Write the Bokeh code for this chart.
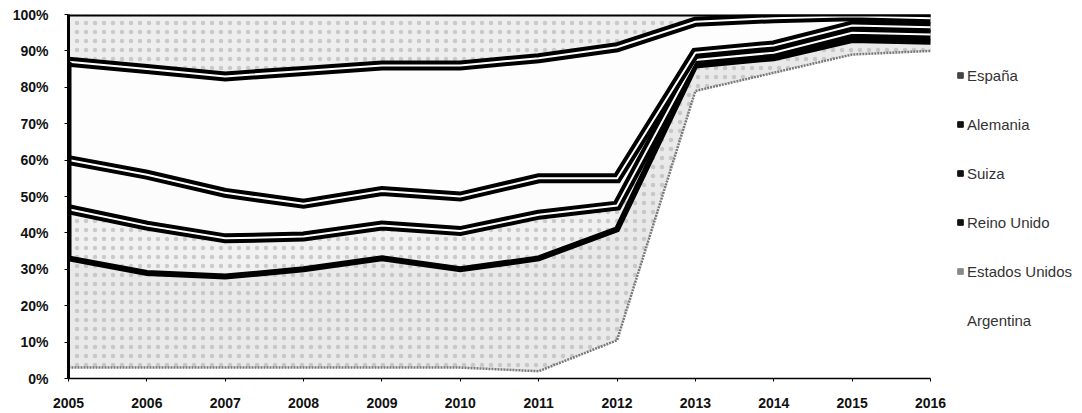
import numpy as np
from bokeh.plotting import figure
from bokeh.models import (ColumnDataSource, FixedTicker, NumeralTickFormatter,
                          Legend, LegendItem, Range1d)
from bokeh.embed import file_html
from bokeh.resources import INLINE

# ---- data (percent share per year) ----
years = [2005, 2006, 2007, 2008, 2009, 2010, 2011, 2012, 2013, 2014, 2015, 2016]
argentina      = [3, 3, 3, 3, 3, 3, 2, 10.5, 79, 84, 89, 90]
estados_unidos = [30, 26, 25, 27, 30, 27, 31, 30.5, 7, 4, 4, 2.5]
reino_unido    = [13.5, 13, 10.5, 9, 9, 10.5, 12, 6.5, 1.5, 1.5, 2, 2]
suiza          = [13.5, 14, 12.5, 9, 9.5, 9.5, 10, 7.5, 2, 2, 2, 2]
alemania       = [27, 29, 32, 36.5, 34.5, 36, 33, 36, 8.5, 7.5, 2.5, 2.5]
espana         = [13, 15, 17, 15.5, 14, 14, 12, 9, 2, 1, 0.5, 1]

series_names = ["Argentina", "Estados Unidos", "Reino Unido", "Suiza", "Alemania", "España"]
legend_order = ["España", "Alemania", "Suiza", "Reino Unido", "Estados Unidos", "Argentina"]
y_ticks = [0, 10, 20, 30, 40, 50, 60, 70, 80, 90, 100]

values = [argentina, estados_unidos, reino_unido, suiza, alemania, espana]
keys = ["arg", "eeuu", "ru", "sui", "ale", "esp"]

src = ColumnDataSource(dict(year=years, **{k: v for k, v in zip(keys, values)}))
cum = np.cumsum(np.array(values, dtype=float), axis=0)

# frame is widened to the right so that the legend sits inside it
FRAME_L, FRAME_R, PX_PER_YEAR = 68, 1078, 862 / 11
x_end = years[0] + (FRAME_R - FRAME_L) / PX_PER_YEAR

p = figure(width=1082, height=413, output_backend="svg", toolbar_location=None,
           x_range=Range1d(years[0], x_end), y_range=Range1d(0, 100),
           min_border_left=FRAME_L, min_border_right=1082 - FRAME_R,
           min_border_top=14, min_border_bottom=35,
           background_fill_color="white", border_fill_color="white")
p.outline_line_color = None
p.grid.visible = False

fills = ["#ffffff", "#e9e9e9", "#f1f1f1", "#fcfcfc", "#fdfdfd", "#eeeeee"]
hatches = [" ", "dot", "dot", " ", " ", "dot"]
p.varea_stack(stackers=keys, x="year", source=src, fill_color=fills,
              hatch_pattern=hatches, hatch_color="#b0b0b0", hatch_scale=9,
              hatch_weight=1.2, hatch_alpha=0.6)

# boundaries
p.line(years, cum[0], line_color="#7a7a7a", line_width=2.5, line_dash="2 1")
p.line(years, cum[1], line_color="black", line_width=6, line_join="miter")
for i in (2, 3, 4):
    p.line(years, cum[i], line_color="black", line_width=10, line_join="miter")
    p.line(years, cum[i], line_color="white", line_width=2, line_join="miter")
p.line(years, cum[5], line_color="black", line_width=4)
# thick left edge of the middle bands
p.segment(x0=[years[0]], y0=[cum[1][0]], x1=[years[0]], y1=[cum[4][0]],
          line_color="black", line_width=6)

# axes
p.xaxis.ticker = FixedTicker(ticks=years)
p.xaxis.bounds = (years[0], years[-1])
p.xaxis.minor_tick_line_color = None
p.xaxis.major_tick_in = 0
p.xaxis.major_tick_out = 3
p.xaxis.major_label_standoff = 16
p.xaxis.axis_line_width = 1.5
p.xaxis.axis_line_color = "black"
p.xaxis.major_label_text_font = "Liberation Sans"
p.xaxis.major_label_text_font_style = "bold"
p.xaxis.major_label_text_font_size = "14px"
p.xaxis.major_label_text_color = "#111111"

p.yaxis.ticker = FixedTicker(ticks=y_ticks)
p.yaxis.formatter = NumeralTickFormatter(format="0")
p.yaxis.major_label_overrides = {t: f"{t}%" for t in y_ticks}
p.yaxis.minor_tick_line_color = None
p.yaxis.major_tick_in = 0
p.yaxis.major_tick_out = 4
p.yaxis.major_label_standoff = 16
p.yaxis.axis_line_width = 3
p.yaxis.axis_line_color = "black"
p.yaxis.major_label_text_font = "Liberation Sans"
p.yaxis.major_label_text_font_style = "bold"
p.yaxis.major_label_text_font_size = "14px"
p.yaxis.major_label_text_color = "#111111"

# legend (markers only; dummy renderers with no visible point)
marker_colors = {"España": "#444444", "Alemania": "#111111", "Suiza": "#111111",
                 "Reino Unido": "#111111", "Estados Unidos": "#888888", "Argentina": None}
items = []
for name in legend_order:
    c = marker_colors[name]
    r = p.scatter(x=[float("nan")], y=[float("nan")], marker="square", size=5,
                  fill_color=c if c else "white", line_color=c if c else "white",
                  fill_alpha=1 if c else 0, line_alpha=1 if c else 0)
    items.append(LegendItem(label=name, renderers=[r]))

legend = Legend(items=items, location=(885, 49), orientation="vertical",
                glyph_width=14, glyph_height=14, label_height=18, spacing=31,
                padding=0, margin=0, label_standoff=0,
                label_text_font="Liberation Sans", label_text_font_size="15px",
                label_text_color="#333333", border_line_color=None,
                background_fill_alpha=0)
p.add_layout(legend, "center")

open("out.html", "w").write(file_html(p, INLINE))
